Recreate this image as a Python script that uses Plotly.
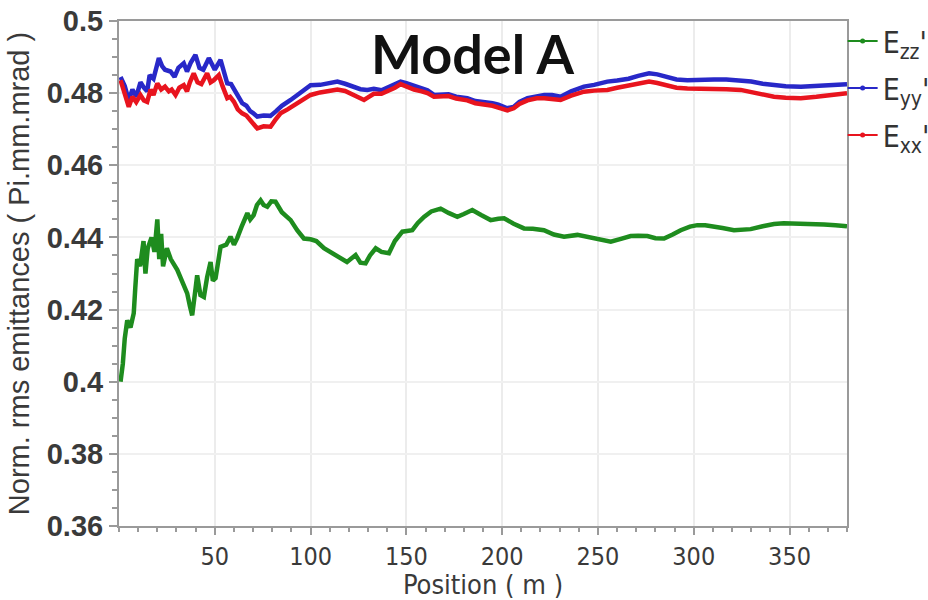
import plotly.graph_objects as go

# Position along the line (m) and normalised rms emittances (Pi.mm.mrad)
pos_zz = [0.8, 2, 3, 4.3, 6, 7.7, 8.5, 9.5, 11, 12.8, 13.8, 15, 17, 18.5, 20, 21, 22, 23, 25, 27,
          30.4, 33, 35.6, 37, 38.2, 40, 40.8, 42.5, 44.3, 46, 47.8, 49, 50.4, 52, 53, 56, 58.2, 60,
          61.7, 64, 67, 68.5, 70.3, 72, 73.9, 75.5, 77.4, 79.5, 81.7, 85, 89.6, 93, 96.5, 100, 103,
          107, 110.4, 115.7, 119, 123.5, 126, 128.7, 131, 134, 137, 140.9, 144, 147.9, 153.1, 156,
          159.2, 163, 167.9, 172, 176.6, 180, 184.4, 189, 194, 198, 201, 206, 211.4, 216, 221.8,
          227, 232.3, 239.3, 244, 248, 252, 256.7, 262, 267.1, 271, 275.8, 280, 284.5, 289, 293.2,
          298, 301.9, 306, 310.6, 315, 321, 325, 329.7, 336, 341.9, 347, 352.4, 360, 368, 374, 380]
e_zz = [0.400, 0.405, 0.412, 0.417, 0.415, 0.419, 0.426, 0.434, 0.432, 0.439, 0.430, 0.437, 0.440,
        0.436, 0.445, 0.434, 0.441, 0.432, 0.437, 0.434, 0.431, 0.428, 0.4245, 0.421, 0.4184, 0.426,
        0.4295, 0.424, 0.4235, 0.429, 0.4332, 0.428, 0.4287, 0.434, 0.4374, 0.438, 0.4402, 0.438,
        0.4398, 0.443, 0.4467, 0.445, 0.4462, 0.449, 0.4503, 0.449, 0.4485, 0.450, 0.4499, 0.447,
        0.4448, 0.442, 0.4397, 0.4395, 0.439, 0.437, 0.436, 0.4342, 0.4332, 0.4351, 0.433, 0.4328,
        0.435, 0.437, 0.436, 0.4356, 0.439, 0.4416, 0.442, 0.444, 0.4457, 0.4472, 0.448, 0.4468,
        0.4457, 0.4465, 0.4476, 0.4462, 0.4448, 0.4452, 0.4453, 0.4438, 0.4425, 0.4424, 0.442,
        0.4408, 0.4402, 0.4407, 0.4402, 0.4397, 0.4392, 0.4388, 0.4396, 0.4404, 0.4405, 0.4404,
        0.4398, 0.4397, 0.4408, 0.442, 0.443, 0.4434, 0.4434, 0.4431, 0.4426, 0.442, 0.4421, 0.4423,
        0.4431, 0.4437, 0.4439, 0.4439, 0.4438, 0.4436, 0.4434, 0.4431]

pos_yy = [0.8, 3, 5.1, 7, 9, 11.2, 13, 14.7, 16, 18, 20.8, 22.5, 24, 26.9, 29, 31, 33.8, 35.5, 37.5,
          39.9, 42, 44, 46.9, 48.5, 50, 53, 55, 56.5, 58.5, 60.5, 62.5, 64.3, 66.5, 68.5, 70, 72.2,
          75.5, 79, 82, 85, 89.6, 93, 97, 100, 105, 110, 114, 118, 122, 126, 129.6, 133, 137, 140,
          144, 147, 150, 154, 158, 161, 164.4, 168, 172, 176, 181.8, 186, 190, 195, 198, 202.7, 206,
          209, 213.2, 218, 222, 226, 230.5, 236, 242.7, 248, 254.9, 260, 266, 271, 276.7, 281, 286,
          291, 296.7, 303, 310.6, 317, 324.5, 330, 336, 341.9, 348, 355.9, 364, 372, 380]
e_yy = [0.4845, 0.482, 0.478, 0.481, 0.479, 0.483, 0.4815, 0.4805, 0.485, 0.484, 0.4897, 0.4875,
        0.4865, 0.486, 0.4845, 0.487, 0.4883, 0.486, 0.4885, 0.4906, 0.487, 0.4865, 0.4897, 0.488,
        0.4865, 0.4892, 0.486, 0.4827, 0.4825, 0.4805, 0.4785, 0.4772, 0.4765, 0.475, 0.4745, 0.4735,
        0.4738, 0.4737, 0.475, 0.4765, 0.4781, 0.4795, 0.4808, 0.4822, 0.4823, 0.4828, 0.4832,
        0.4826, 0.4818, 0.4811, 0.4809, 0.4812, 0.4808, 0.4815, 0.4825, 0.4832, 0.4828, 0.482,
        0.4814, 0.4808, 0.4795, 0.4795, 0.4797, 0.479, 0.4786, 0.4778, 0.4776, 0.4772, 0.4768,
        0.4758, 0.4762, 0.4776, 0.4786, 0.4792, 0.4795, 0.4795, 0.479, 0.4805, 0.4818, 0.4823,
        0.4832, 0.4835, 0.484, 0.4848, 0.4855, 0.4852, 0.4845, 0.4838, 0.4836, 0.4838, 0.4838,
        0.4838, 0.4836, 0.4832, 0.4826, 0.4822, 0.4819, 0.4818, 0.482, 0.4823, 0.4825]

pos_xx = [0.8, 2.5, 5.1, 7, 9, 11.2, 13, 14.7, 16.5, 18, 20, 22, 24, 26, 27.5, 29.5, 31.5, 33.8,
          35.5, 37, 39, 41, 43, 46, 47.8, 49.5, 52.1, 54, 56.5, 58, 60, 62, 64.3, 66.5, 68.7, 70.5,
          72.2, 75.5, 79.1, 81.5, 84.3, 88, 91.3, 95, 100, 105, 110, 114, 118, 122, 125, 127.9, 130,
          133, 137, 140, 144, 147, 150, 154, 158, 161, 164.4, 168, 172, 176, 181.8, 186, 190, 195,
          198, 202.7, 206, 209, 213.2, 218, 222, 226, 230.5, 236, 242.7, 248, 254.9, 260, 266, 271,
          276.7, 281, 286, 291, 296.7, 303, 310.6, 317, 324.5, 330, 336, 341.9, 348, 355.9, 364,
          372, 380]
e_xx = [0.4836, 0.481, 0.4762, 0.479, 0.4775, 0.4795, 0.478, 0.4776, 0.481, 0.4795, 0.4827, 0.481,
        0.4818, 0.4805, 0.481, 0.4795, 0.4815, 0.4822, 0.4805, 0.483, 0.4855, 0.483, 0.4825, 0.4855,
        0.483, 0.4836, 0.485, 0.482, 0.4786, 0.479, 0.4776, 0.4755, 0.4744, 0.4738, 0.4725, 0.4715,
        0.4702, 0.4708, 0.4707, 0.4725, 0.4744, 0.4755, 0.4767, 0.478, 0.4795, 0.4802, 0.4808,
        0.481, 0.4806, 0.4795, 0.4788, 0.4781, 0.4788, 0.4798, 0.4798, 0.4805, 0.4815, 0.4825,
        0.4818, 0.481, 0.4805, 0.48, 0.479, 0.479, 0.4792, 0.4785, 0.478, 0.4772, 0.477, 0.4765,
        0.476, 0.4752, 0.4758, 0.477, 0.478, 0.4786, 0.4786, 0.4784, 0.4781, 0.4793, 0.4804,
        0.4807, 0.4809, 0.4815, 0.4822, 0.4828, 0.4832, 0.4828, 0.482, 0.4815, 0.4813, 0.4813,
        0.4813, 0.4811, 0.4809, 0.4803, 0.4796, 0.479, 0.4787, 0.4786, 0.479, 0.4796, 0.48]

x_ticks = [50, 100, 150, 200, 250, 300, 350]
y_ticks = [0.36, 0.38, 0.40, 0.42, 0.44, 0.46, 0.48, 0.50]

series = [
    ("E<sub>zz</sub>'", pos_zz, e_zz, "#1e8c1e", "zz"),
    ("E<sub>yy</sub>'", pos_yy, e_yy, "#2828c8", "yy"),
    ("E<sub>xx</sub>'", pos_xx, e_xx, "#e8141e", "xx"),
]

fig = go.Figure()
for name, xs, ys, color, grp in series:
    fig.add_trace(go.Scatter(
        x=xs, y=ys, mode="lines", name=name, legendgroup=grp, showlegend=False,
        line=dict(color=color, width=4.5, shape="linear"),
    ))
    # legend entry: short line with a dot
    fig.add_trace(go.Scatter(
        x=[None], y=[None], mode="lines+markers", name=name, legendgroup=grp,
        line=dict(color=color, width=2), marker=dict(color=color, size=5),
    ))

axis_col = "#9a9a9a"
narrow = "Liberation Sans Narrow, DejaVu Sans Condensed, Arial Narrow, sans-serif"
fig.update_xaxes(
    range=[0, 380], tickvals=x_ticks, ticks="outside", ticklen=7, tickwidth=1.5,
    tickcolor=axis_col, showline=True, linecolor=axis_col, linewidth=2, mirror=True,
    showgrid=True, gridcolor="#ececec", gridwidth=1.5, zeroline=False,
    minor=dict(dtick=10, tick0=0, ticks="outside", ticklen=4, tickcolor=axis_col, showgrid=False),
    tickfont=dict(family=narrow, size=25, color="#3a3a3a"),
    title=dict(text="Position ( m )", standoff=0,
               font=dict(family=narrow, size=27, color="#3a3a3a")),
)
fig.update_yaxes(
    range=[0.36, 0.5], tickvals=y_ticks, ticks="outside", ticklen=8, tickwidth=1.5,
    tickcolor=axis_col, showline=True, linecolor=axis_col, linewidth=2, mirror=True,
    showgrid=True, gridcolor="#f0f0f0", gridwidth=1.5, zeroline=False,
    minor=dict(dtick=0.005, tick0=0.36, ticks="outside", ticklen=5, tickcolor=axis_col,
               showgrid=False),
    tickfont=dict(family="Liberation Sans", size=29, color="#3a3a3a", weight="bold"),
    title=dict(text="Norm. rms emittances ( Pi.mm.mrad )", standoff=9,
               font=dict(family="Liberation Sans", size=29, color="#3a3a3a")),
)

fig.update_layout(
    width=928, height=600,
    margin=dict(l=119, r=81, t=21, b=74, autoexpand=False),
    plot_bgcolor="white", paper_bgcolor="white",
    legend=dict(
        x=0.994, xanchor="left", y=1.012, yanchor="top", traceorder="grouped",
        tracegroupgap=5, itemwidth=30, bgcolor="rgba(0,0,0,0)",
        font=dict(family=narrow, size=30, color="#333333"),
    ),
    annotations=[dict(
        text="<b>Model A</b>", xref="paper", yref="paper", x=0.485, y=0.935,
        xanchor="center", yanchor="middle", showarrow=False,
        font=dict(family="Lato, Liberation Sans", size=54, color="#111111"),
    )],
)

fig.write_html("out.html")
